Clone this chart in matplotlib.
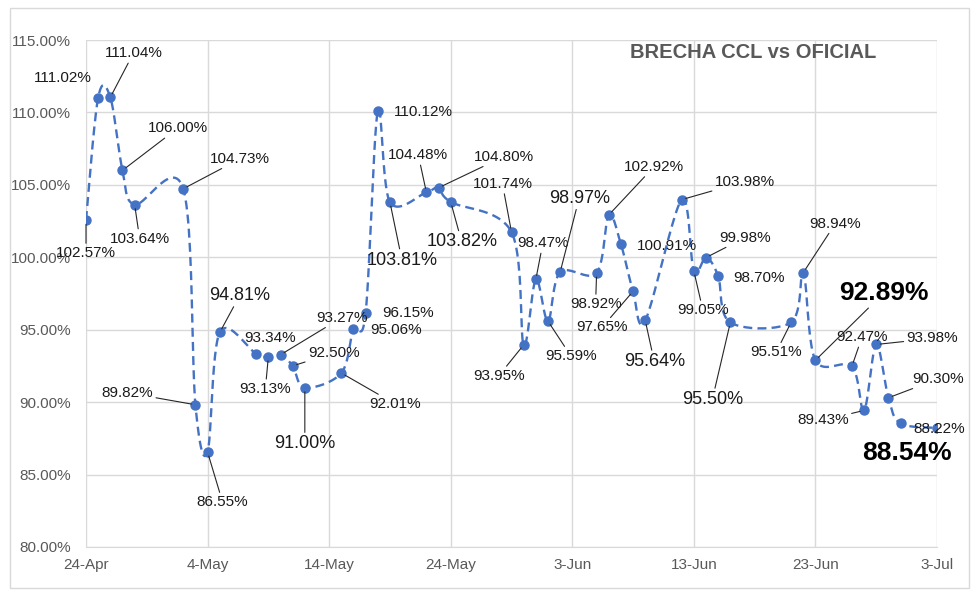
import numpy as np
import pandas as pd
import matplotlib
matplotlib.use('Agg')
import matplotlib.pyplot as plt
import matplotlib.dates as mdates
from matplotlib.patches import Rectangle

plt.rcParams['font.family'] = ['Liberation Sans', 'DejaVu Sans']

fechas = ['2023-04-24', '2023-04-25', '2023-04-26', '2023-04-27', '2023-04-28',
          '2023-05-02', '2023-05-03', '2023-05-04', '2023-05-05',
          '2023-05-08', '2023-05-09', '2023-05-10', '2023-05-11', '2023-05-12',
          '2023-05-15', '2023-05-16', '2023-05-17', '2023-05-18', '2023-05-19',
          '2023-05-22', '2023-05-23', '2023-05-24',
          '2023-05-29', '2023-05-30', '2023-05-31', '2023-06-01', '2023-06-02',
          '2023-06-05', '2023-06-06', '2023-06-07', '2023-06-08', '2023-06-09',
          '2023-06-12', '2023-06-13', '2023-06-14', '2023-06-15', '2023-06-16',
          '2023-06-21', '2023-06-22', '2023-06-23',
          '2023-06-26', '2023-06-27', '2023-06-28', '2023-06-29', '2023-06-30',
          '2023-07-03']
brecha = [102.57, 111.02, 111.04, 106.00, 103.64,
          104.73, 89.82, 86.55, 94.81,
          93.34, 93.13, 93.27, 92.50, 91.00,
          92.01, 95.06, 96.15, 110.12, 103.81,
          104.48, 104.80, 103.82,
          101.74, 93.95, 98.47, 95.59, 98.97,
          98.92, 102.92, 100.91, 97.65, 95.64,
          103.98, 99.05, 99.98, 98.70, 95.50,
          95.51, 98.94, 92.89,
          92.47, 89.43, 93.98, 90.30, 88.54,
          88.22]

# posicion de cada etiqueta (pixeles respecto al punto, y hacia abajo), linea guia, estilo
etiq_pos = [(0, 33), (-35, -20), (23, -44), (55, -42), (5, 34),
            (57, -30), (-68, -12), (15, 50), (20, -37),
            (14, -16), (-3, 32), (61, -37), (41, -13), (0, 56),
            (54, 31), (43, 1), (42, 0), (46, 1), (12, 58),
            (-8, -37), (65, -31), (11, 40),
            (-9, -48), (-25, 31), (7, -36), (23, 35), (19, -74),
            (-1, 31), (45, -48), (46, 2), (-31, 36), (9, 41),
            (63, -18), (9, 39), (39, -20), (41, 2), (-18, 77),
            (-15, 30), (32, -49), (68, -67),
            (10, -29), (-41, 10), (56, -6), (50, -19), (6, 30),
            (2, 1)]
sin_guia = {1, 9, 15, 16, 17, 29, 35, 44, 45}
grandes = {8, 13, 18, 21, 26, 31, 36}
destacadas = {39, 44}

azul = '#4472C4'
gris = '#595959'

x = mdates.date2num(pd.to_datetime(fechas))
y = np.array(brecha)

# linea suavizada estilo Excel (bezier con tangentes catmull-rom)
sx, sy = 12.15, 14.5
P = np.column_stack([(x - x[0]) * sx, y * sy])
Pp = np.vstack([P[0], P, P[-1]])
t = np.linspace(0, 1, 25)[:, None]
curva = []
for i in range(len(P) - 1):
    p0, p1, p2, p3 = Pp[i], Pp[i + 1], Pp[i + 2], Pp[i + 3]
    c1 = p1 + (p2 - p0) / 6
    c2 = p2 - (p3 - p1) / 6
    seg = ((1 - t) ** 3) * p1 + 3 * ((1 - t) ** 2) * t * c1 + 3 * (1 - t) * t ** 2 * c2 + t ** 3 * p2
    curva.append(seg)
curva = np.vstack(curva)
cx = curva[:, 0] / sx + x[0]
cy = curva[:, 1] / sy

fig = plt.figure(figsize=(9.8, 5.96), dpi=100)
ax = fig.add_axes([86 / 980, 49 / 596, 851 / 980, 507 / 596])

ax.plot(cx, cy, color=azul, lw=1.7, ls=(0, (3.8, 2.2)), zorder=3)
ax.plot(x, y, 'o', color=azul, ms=6.5, zorder=4)

for i, (xi, yi) in enumerate(zip(x, y)):
    dx, dy = etiq_pos[i]
    if i in destacadas:
        kw = dict(fontsize=19, fontweight='bold', color='black')
    elif i in grandes:
        kw = dict(fontsize=13, color='#1a1a1a')
    else:
        kw = dict(fontsize=11, color='#1a1a1a')
    arrow = None
    if i not in sin_guia:
        arrow = dict(arrowstyle='-', color='#262626', lw=0.8, shrinkA=0, shrinkB=3)
    ax.annotate(f'{yi:.2f}%', xy=(xi, yi), xytext=(dx, -dy), textcoords='offset pixels',
                ha='center', va='center', arrowprops=arrow, zorder=5, **kw)

ax.set_ylim(80, 115)
ax.set_yticks(np.arange(80, 116, 5))
ax.set_yticklabels([f'{v:.2f}%' for v in np.arange(80, 116, 5)])
ticks = pd.date_range('2023-04-24', '2023-07-03', freq='10D')
ax.set_xticks(mdates.date2num(ticks))
ax.set_xticklabels([f'{d.day}-{d.strftime("%b")}' for d in ticks])
ax.set_xlim(mdates.date2num(ticks[0]), mdates.date2num(ticks[-1]))

ax.grid(True, color='#d9d9d9', lw=1)
ax.set_axisbelow(True)
for s in ['top', 'right', 'left']:
    ax.spines[s].set_visible(False)
ax.spines['bottom'].set_color('#d9d9d9')
ax.tick_params(axis='both', length=0, colors=gris, labelsize=11)
ax.tick_params(axis='y', pad=11)
ax.tick_params(axis='x', pad=8)

fig.text(753 / 980, 1 - 53 / 596, 'BRECHA CCL vs OFICIAL', ha='center', va='center',
         fontsize=14.5, fontweight='bold', color=gris)

fig.patches.append(Rectangle((10 / 980, 8 / 596), 959 / 980, 580 / 596, transform=fig.transFigure,
                             fill=False, edgecolor='#d9d9d9', lw=1))

plt.savefig('out.png', dpi=100)
